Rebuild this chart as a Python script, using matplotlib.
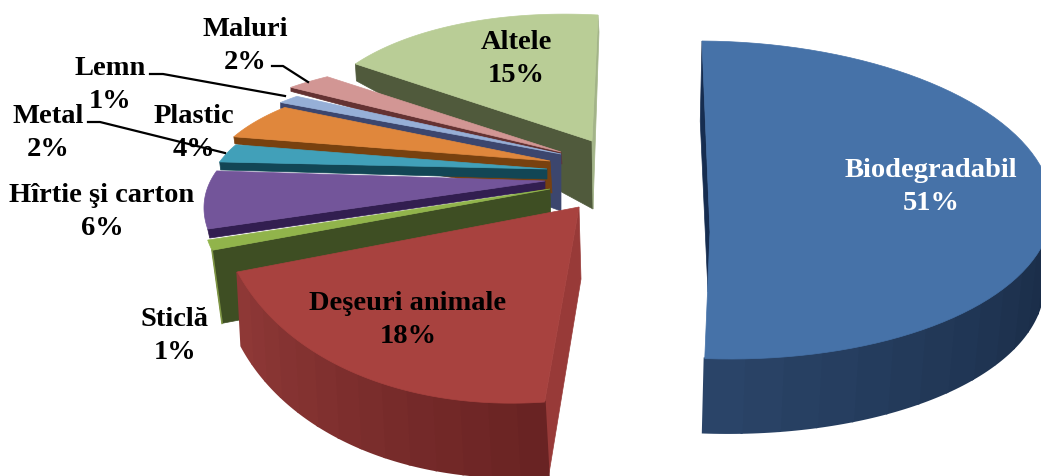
import numpy as np
import matplotlib
matplotlib.use("Agg")
import matplotlib.pyplot as plt

# ------------------ Data ------------------
categories = ["Biodegradabil", "Deşeuri animale", "Sticlă", "Hîrtie şi carton",
              "Metal", "Plastic", "Lemn", "Maluri", "Altele"]
values = [51, 18, 1, 6, 2, 4, 1, 2, 15]

# ------------------ Colours ------------------
top_colors = ["#4672A8", "#A8423F", "#91B44B", "#73559A", "#41A0B9",
              "#E0873C", "#96AFD7", "#D29694", "#B9CD96"]
wall_colors = ["#162D50", "#983A38", "#3E4E23", "#321E50", "#124655",
               "#78410F", "#3C466E", "#643232", "#505A3C"]

# ------------------ Layout of the exploded slices (pixels) ------------------
# every slice is an ellipse: x = cx + a sin + b cos, y = cy + c sin + d cos
fan = (419, 77, 74, -147)
centers = [(714, 201), (578, 138), (630, 266), (630, 255), (633, 246),
           (631, 238), (627, 233), (621, 224), (612, 167)]
shapes = [(338, -12, 2, -159), (362, 10.7, -41, -263), fan, fan, fan,
          fan, fan, fan, (307, -14, 16.5, -151)]
hubs = [(710, 233), (579, 208), (550, 190), (545, 182), (547, 170),
        (550, 162), (561, 155), (561, 153), (592, 142)]
rim_drop = [(-2, 77), (4, 74), (10, 73), (2, 9), (1, 8), (1, 7), (0, 6), (0, 4), (1, 17)]
hub_drop = [(-2, 60), (2, 72), (2, 72), (0, 8), (0, 10), (2, 32), (0, 57), (1, 12), (1, 68)]

label_pos = [(931, 187), (408, 320), (175, 336), (102, 212), (48, 133),
             (194, 133), (110, 85), (245, 46), (516, 59)]
leaders = [[(272, 67), (283, 67), (308, 83)],
           [(150, 75), (163, 75), (285, 97)],
           [(88, 123), (100, 123), (225, 154)]]

plt.rcParams["font.family"] = ["Liberation Serif", "DejaVu Serif"]

fig = plt.figure(figsize=(10.41, 4.77), dpi=100)
ax = fig.add_axes([0, 0, 1, 1])
ax.set_xlim(0, 1041)
ax.set_ylim(477, 0)
ax.axis("off")


def rim(i, deg, drop=(0, 0), k=1.0):
    t = np.radians(deg)
    a, b, c, d = shapes[i]
    x = centers[i][0] + drop[0] + k * (a * np.sin(t) + b * np.cos(t))
    y = centers[i][1] + drop[1] + k * (c * np.sin(t) + d * np.cos(t))
    return x, y


def wall(i, deg, color):
    # flat cut face between the hub and the rim
    k = 0.98 if i == 0 else 1.0
    hx, hy = hubs[i]
    x0, y0 = rim(i, deg)
    x1, y1 = rim(i, deg, rim_drop[i], k)
    ax.fill([hx, x0, x1, hx + hub_drop[i][0]], [hy, y0, y1, hy + hub_drop[i][1]],
            color=color, lw=0.5)


def outer_wall(i, t0, t1, c0, c1, strips=14):
    # banded outside face, like the shaded bands of the 3D pie
    k = 0.98 if i == 0 else 1.0
    edges = np.linspace(t0, t1, strips + 1)
    c0 = np.array(matplotlib.colors.to_rgb(c0))
    c1 = np.array(matplotlib.colors.to_rgb(c1))
    for n in range(strips):
        tt = np.linspace(edges[n], edges[n + 1], 8)
        xt, yt = rim(i, tt)
        xb, yb = rim(i, tt, rim_drop[i], k)
        ax.fill(np.r_[xt, xb[::-1]], np.r_[yt, yb[::-1]],
                color=c0 + (c1 - c0) * n / (strips - 1), lw=1.6)


# ------------------ Slices, back to front ------------------
ends = np.cumsum(values) * 3.6
starts = ends - np.array(values) * 3.6

for i in range(len(values) - 1, -1, -1):
    wall(i, starts[i], wall_colors[i])
    if categories[i] == "Altele":
        wall(i, ends[i], "#A3B488")
    if categories[i] == "Biodegradabil":
        outer_wall(i, 90, ends[i], "#182A44", "#2A4468")
    if categories[i] == "Deşeuri animale":
        outer_wall(i, starts[i], ends[i], "#692323", "#8E3836")
    if categories[i] == "Sticlă":
        x0, y0 = rim(i, starts[i])
        x1, y1 = rim(i, starts[i], rim_drop[i])
        ax.plot([x0, x1], [y0, y1], color="#7F9645", lw=1.2)
    tt = np.linspace(starts[i], ends[i], 80)
    xs, ys = rim(i, tt)
    ax.fill(np.r_[hubs[i][0], xs], np.r_[hubs[i][1], ys], color=top_colors[i], lw=0.5)

# ------------------ Leader lines ------------------
for line in leaders:
    ax.plot([p[0] for p in line], [p[1] for p in line], color="black", lw=1.6)

# ------------------ Labels ------------------
for i, name in enumerate(categories):
    color = "white" if i == 0 else "black"
    ax.text(label_pos[i][0], label_pos[i][1], f"{name}\n{values[i]}%", color=color,
            fontsize=20.5, fontweight="bold", ha="center", va="center",
            linespacing=1.38)

fig.savefig("out.png", dpi=100)
